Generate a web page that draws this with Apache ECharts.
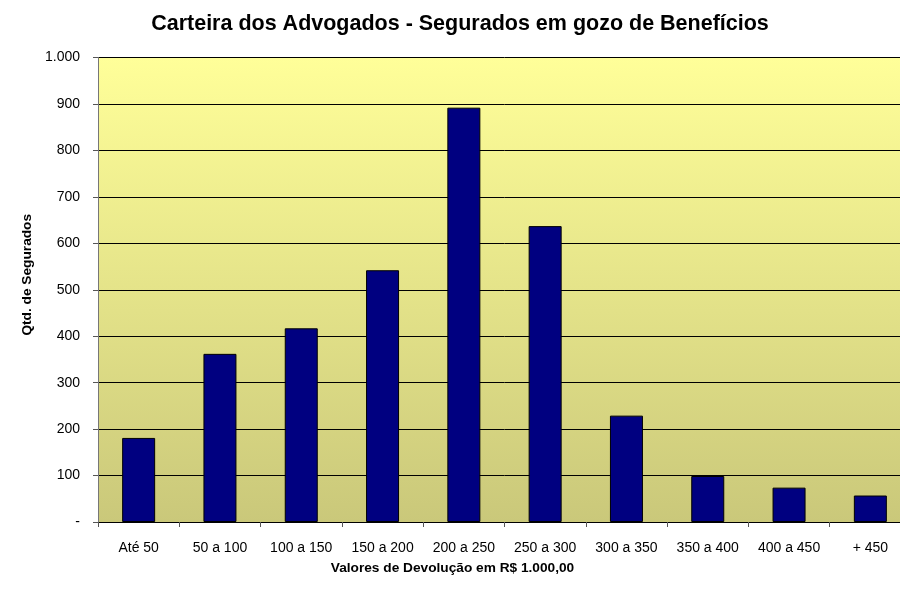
<!DOCTYPE html>
<html><head><meta charset="utf-8">
<script src="https://cdn.jsdelivr.net/npm/echarts@6/dist/echarts.min.js"></script>
<style>html,body{margin:0;padding:0;background:#fff;overflow:hidden}#c{width:911px;height:598px}</style>
</head><body><div id="c"></div>
<script>
const categories = ['Até 50','50 a 100','100 a 150','150 a 200','200 a 250','250 a 300','300 a 350','350 a 400','400 a 450','+ 450'];
const values = [181, 362, 417, 542, 892, 637, 229, 99, 74, 57];
const yTicks = [0,100,200,300,400,500,600,700,800,900,1000];
const yTickLabels = ['-','100','200','300','400','500','600','700','800','900','1.000'];

const chart = echarts.init(document.getElementById('c'));
const font = 'Liberation Sans, Arial, sans-serif';
chart.setOption({
  animation: false,
  title: {
    text: 'Carteira dos Advogados - Segurados em gozo de Benefícios',
    left: 455, textAlign: 'center', top: 8,
    textStyle: {fontFamily: font, fontSize: 21.5, fontWeight: 'bold', color: '#000'}
  },
  grid: {
    left: 98, top: 57.5, width: 813, height: 464.5,
    show: true, borderWidth: 0,
    backgroundColor: new echarts.graphic.LinearGradient(0,0,0,1,[
      {offset:0,color:'#FFFF99'},{offset:1,color:'#CAC87A'}])
  },
  xAxis: {
    type: 'category', data: categories,
    name: 'Valores de Devolução em R$ 1.000,00', nameLocation: 'middle', nameGap: 39,
    nameTextStyle: {fontFamily: font, fontSize: 13.7, fontWeight: 'bold', color: '#000', padding:[0,0,0,-104]},
    axisLine: {lineStyle: {color: '#000', width: 1}},
    axisTick: {show: true, alignWithLabel: false, length: 5, lineStyle: {color: '#555'}},
    axisLabel: {fontFamily: font, fontSize: 14, color: '#000', margin: 19}
  },
  yAxis: {
    type: 'value', min: 0, max: 1000, interval: 100,
    name: 'Qtd. de Segurados', nameLocation: 'middle', nameGap: 61, nameRotate: 90,
    nameTextStyle: {fontFamily: font, fontSize: 13.7, fontWeight: 'bold', color: '#000', padding:[0,0,0,30]},
    axisLine: {show: true, lineStyle: {color: '#777', width: 1}},
    axisTick: {show: true, length: 5, lineStyle: {color: '#555'}},
    axisLabel: {fontFamily: font, fontSize: 14, color: '#000', margin: 18,
      formatter: v => yTickLabels[yTicks.indexOf(v)]},
    splitLine: {show: true, lineStyle: {color: '#000', width: 1}}
  },
  series: [{
    type: 'bar', data: values, barWidth: 33,
    itemStyle: {color: '#000080', borderColor: '#000', borderWidth: 1}
  }]
});
</script></body></html>
